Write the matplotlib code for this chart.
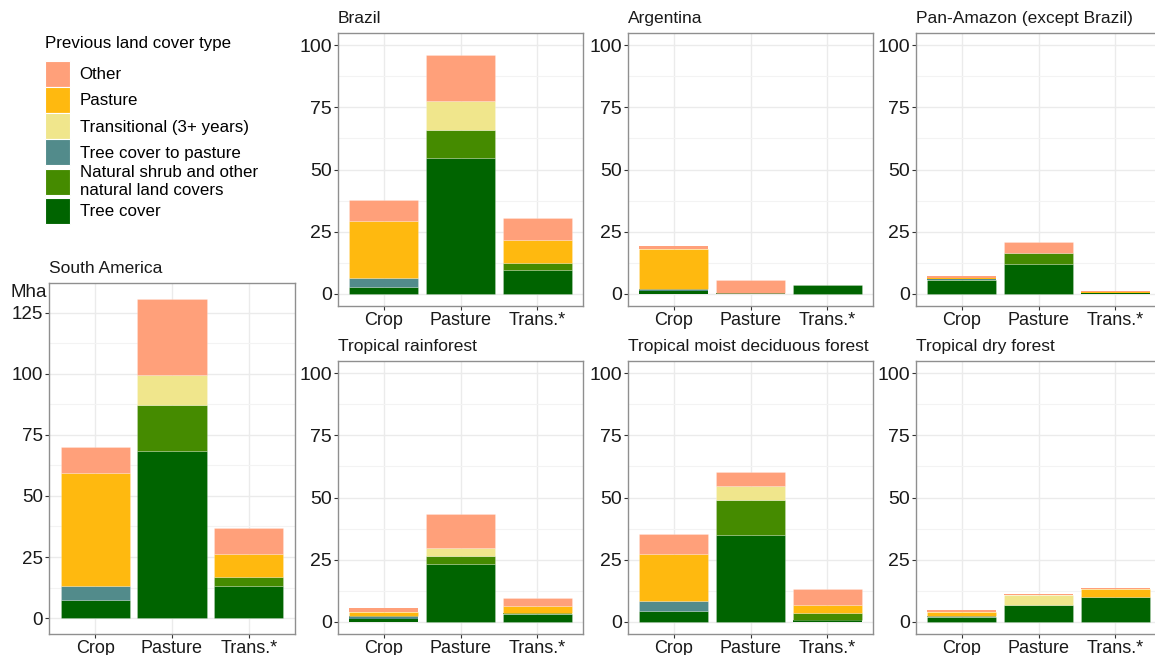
import numpy as np
import matplotlib.pyplot as plt
from matplotlib.patches import Patch
from matplotlib.transforms import blended_transform_factory

plt.rcParams['font.family'] = ['Liberation Sans', 'DejaVu Sans']

categories = ['Crop', 'Pasture', 'Trans.*']

# cover types, stacked from the bottom up
cover_types = ['Tree cover', 'Natural shrub and other\nnatural land covers',
               'Tree cover to pasture', 'Transitional (3+ years)', 'Pasture', 'Other']
cover_colors = ['#006400', '#458B00', '#528B8B', '#F0E68C', '#FFB90F', '#FFA07A']

# Mha per cover type (rows, same order as cover_types) for Crop, Pasture, Trans.*
south_america = [[7.6, 68.2, 13.2],
                 [0.0, 18.8, 3.7],
                 [5.7, 0.0, 0.0],
                 [0.0, 12.4, 0.0],
                 [45.9, 0.0, 9.5],
                 [10.8, 31.0, 10.5]]
brazil = [[2.5, 54.5, 9.6],
          [0.0, 11.5, 2.8],
          [3.7, 0.0, 0.0],
          [0.0, 11.6, 0.0],
          [23.0, 0.0, 9.0],
          [8.7, 18.5, 9.1]]
argentina = [[0.9, 0.2, 3.3],
             [0.1, 0.1, 0.0],
             [1.0, 0.0, 0.0],
             [0.0, 0.0, 0.0],
             [15.9, 0.0, 0.0],
             [1.2, 5.1, 0.0]]
pan_amazon = [[5.5, 12.0, 0.2],
              [0.0, 4.2, 0.0],
              [0.3, 0.0, 0.0],
              [0.0, 0.0, 0.0],
              [0.4, 0.0, 0.6],
              [1.0, 4.4, 0.3]]
rainforest = [[0.9, 23.4, 3.2],
              [0.0, 3.0, 0.1],
              [1.4, 0.0, 0.0],
              [0.0, 3.1, 0.0],
              [1.6, 0.0, 3.0],
              [1.5, 14.0, 3.2]]
moist_deciduous = [[4.3, 35.0, 0.7],
                   [0.0, 14.1, 2.9],
                   [3.9, 0.0, 0.0],
                   [0.0, 5.7, 0.0],
                   [18.9, 0.0, 3.2],
                   [8.1, 5.3, 6.2]]
dry_forest = [[1.9, 6.8, 9.8],
              [0.0, 0.0, 0.0],
              [0.3, 0.0, 0.0],
              [0.0, 3.9, 0.0],
              [1.8, 0.0, 3.2],
              [0.7, 0.3, 0.4]]

W, H = 1155, 655
fig = plt.figure(figsize=(W / 100, H / 100), dpi=100)


def px_axes(left, top, right, bottom):
    return fig.add_axes([left / W, 1 - bottom / H, (right - left) / W, (bottom - top) / H])


def stacked_panel(ax, title, data, ylim, yticks, ysize):
    x = np.arange(len(categories))
    base = np.zeros(len(categories))
    for vals, col in zip(data, cover_colors):
        vals = np.asarray(vals)
        # outline only the larger segments, thin ones would turn white
        lw = np.where(vals > 1.5, 0.4, 0.0)
        ax.bar(x, vals, bottom=base, width=0.9, color=col,
               edgecolor=(1, 1, 1, 0.35), linewidth=lw, zorder=3)
        base += vals
    ax.set_xlim(-0.6, len(categories) - 0.4)
    ax.set_ylim(*ylim)
    ax.set_xticks(x)
    ax.set_xticklabels(categories, fontsize=13)
    ax.set_yticks(yticks)
    ax.set_yticklabels([str(t) for t in yticks], fontsize=ysize)
    ax.set_yticks(np.array(yticks[:-1]) + 12.5, minor=True)
    ax.grid(True, which='major', color='#EBEBEB', linewidth=1.0, zorder=0)
    ax.grid(True, which='minor', axis='y', color='#F3F3F3', linewidth=0.8, zorder=0)
    ax.tick_params(which='major', length=3, width=0.8, color='#333333',
                   labelcolor='#1a1a1a', pad=1.5)
    ax.tick_params(which='minor', length=0)
    for sp in ax.spines.values():
        sp.set_color('#8f8f8f')
        sp.set_linewidth(1.0)
    ax.set_axisbelow(True)
    ax.set_title(title, loc='left', fontsize=12.5, pad=7, color='#1a1a1a')


panel_ticks = [0, 25, 50, 75, 100]

ax_sa = px_axes(49, 283, 295, 634)
stacked_panel(ax_sa, 'South America', south_america, (-6.5, 137.1),
              [0, 25, 50, 75, 100, 125], 13.5)
ax_sa.text(-0.01, 131.5, 'Mha', fontsize=13.5, ha='right', va='baseline', color='#1a1a1a',
           transform=blended_transform_factory(ax_sa.transAxes, ax_sa.transData))

top_row = [('Brazil', brazil), ('Argentina', argentina), ('Pan-Amazon (except Brazil)', pan_amazon)]
bottom_row = [('Tropical rainforest', rainforest), ('Tropical moist deciduous forest', moist_deciduous),
              ('Tropical dry forest', dry_forest)]
lefts = [338, 628, 916]

for left, (name, data) in zip(lefts, top_row):
    ax = px_axes(left, 33, left + 245, 306)
    stacked_panel(ax, name, data, (-5, 105), panel_ticks, 14)

for left, (name, data) in zip(lefts, bottom_row):
    ax = px_axes(left, 361, left + 245, 634)
    stacked_panel(ax, name, data, (-5, 105), panel_ticks, 14)

# legend, listed top (Other) to bottom (Tree cover)
handles = [Patch(facecolor=c, edgecolor='white', linewidth=0.8, label=l)
           for l, c in zip(cover_types[::-1], cover_colors[::-1])]
leg = fig.legend(handles=handles, title='Previous land cover type', loc='upper left',
                 bbox_to_anchor=(45 / W, 1 - 36 / H), frameon=False, fontsize=12.2,
                 title_fontsize=12.2, handlelength=1.45, handleheight=2.0, labelspacing=0.0,
                 handletextpad=0.6, borderpad=0, borderaxespad=0, alignment='left')
leg._legend_box.sep = 7  # gap between title and keys

fig.savefig('out.png', dpi=100)
